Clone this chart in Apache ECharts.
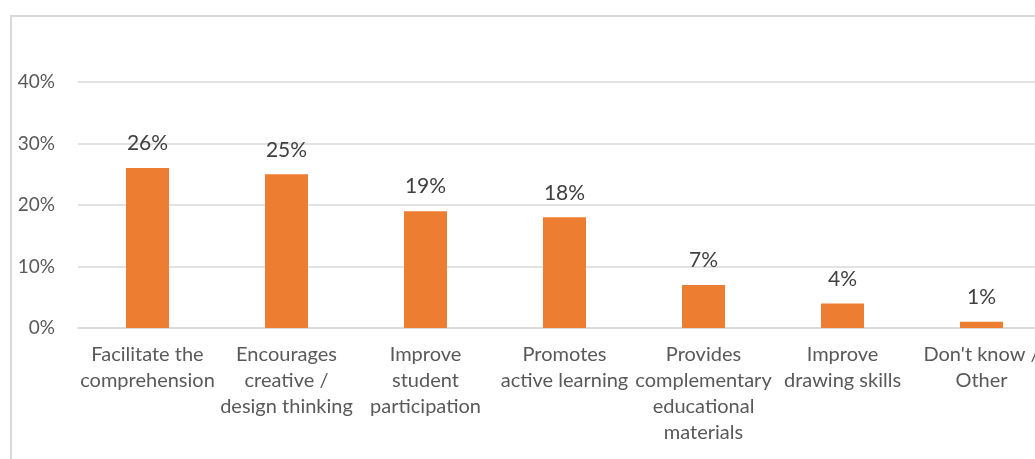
<!DOCTYPE html>
<html>
<head>
<meta charset="utf-8">
<style>
  html, body { margin: 0; padding: 0; background: #ffffff; overflow: hidden; }
  #chart { position: absolute; left: 0; top: 0; width: 1060px; height: 480px; }
</style>
<script src="https://cdn.jsdelivr.net/npm/echarts@6/dist/echarts.min.js"></script>
</head>
<body>
<div id="chart"></div>
<script>
// Reasons given, share of responses (%)
const categories = [
  'Facilitate the\ncomprehension',
  'Encourages\ncreative /\ndesign thinking',
  'Improve\nstudent\nparticipation',
  'Promotes\nactive learning',
  'Provides\ncomplementary\neducational\nmaterials',
  'Improve\ndrawing skills',
  "Don't know /\nOther"
];
const shares = [26, 25, 19, 18, 7, 4, 1];
const yTicks = [0, 10, 20, 30, 40];

const fontFamily = 'Lato, "Open Sans", sans-serif';
const chart = echarts.init(document.getElementById('chart'), null, { renderer: 'canvas' });

chart.setOption({
  animation: false,
  graphic: [{
    type: 'rect',
    shape: { x: 11, y: 16, width: 1200, height: 600 },
    style: { fill: 'none', stroke: '#d9d9d9', lineWidth: 2 },
    silent: true
  }],
  grid: { left: 78, top: 82, width: 973, height: 246, containLabel: false },
  xAxis: {
    type: 'category',
    data: categories,
    axisLine: { show: true, lineStyle: { color: '#d9d9d9', width: 1.5 } },
    axisTick: { show: false },
    axisLabel: {
      interval: 0,
      color: '#595959',
      fontFamily: fontFamily,
      fontSize: 20,
      lineHeight: 26,
      margin: 14
    }
  },
  yAxis: {
    type: 'value',
    min: yTicks[0],
    max: yTicks[yTicks.length - 1],
    interval: 10,
    axisLine: { show: false },
    axisTick: { show: false },
    splitLine: { lineStyle: { color: '#d9d9d9', width: 1.5 } },
    axisLabel: {
      color: '#595959',
      fontFamily: fontFamily,
      fontSize: 19,
      margin: 23,
      formatter: v => v + '%'
    }
  },
  series: [{
    type: 'bar',
    data: shares,
    barWidth: 43,
    itemStyle: { color: '#ed7d31' },
    label: {
      show: true,
      position: 'top',
      distance: 14,
      color: '#404040',
      fontFamily: fontFamily,
      fontSize: 21,
      formatter: p => p.value + '%'
    }
  }]
});
</script>
</body>
</html>
